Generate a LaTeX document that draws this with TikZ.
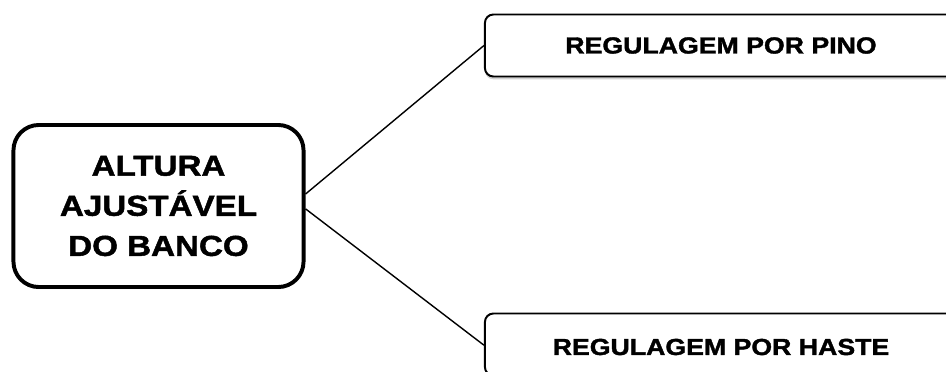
\documentclass[tikz,border=0pt]{standalone}
\usepackage{fontspec}
\setmainfont{Liberation Sans}
\newfontfamily\heavyfont[FakeBold=1.6, FakeStretch=1.15]{Liberation Sans Bold}
\usetikzlibrary{shadows}

\tikzset{
  mainbox/.style={draw=black, line width=2.8pt, rounded corners=18pt, fill=white,
    align=center, font=\heavyfont\fontsize{20.5}{28.5}\selectfont,
    minimum width=7.25cm, minimum height=4.05cm,
    drop shadow={shadow xshift=0pt, shadow yshift=-1.5pt, opacity=0.35}},
  subbox/.style={draw=black, line width=1.4pt, rounded corners=6pt, fill=white,
    font=\heavyfont\fontsize{16.5}{18}\selectfont,
    minimum width=11.8cm, minimum height=1.55cm,
    drop shadow={shadow xshift=0pt, shadow yshift=-2pt, opacity=0.35}},
  link/.style={black, line width=1pt}
}

\begin{document}
\begin{tikzpicture}[x=0.025cm, y=-0.025cm]

    % page size of the reference
    \useasboundingbox (0,0) rectangle (946,371);
    \clip (0,0) rectangle (946,371);

    \node[mainbox] (altura) at (158.5,206) {ALTURA\\AJUSTÁVEL\\DO BANCO};

    \node[subbox] (pino) at (721,45.5) {REGULAGEM POR PINO};
    \node[subbox] (haste) at (721,344.5) {};
    \node[font=\heavyfont\fontsize{16.5}{18}\selectfont] (hastetxt) at (721,347) {REGULAGEM POR HASTE};

    % connectors
    \draw[link] ([yshift=8.5pt]altura.east) -- (pino.west);
    \draw[link] ([yshift=-2pt]altura.east) -- ([yshift=-0.5pt]haste.west);

\end{tikzpicture}
\end{document}
